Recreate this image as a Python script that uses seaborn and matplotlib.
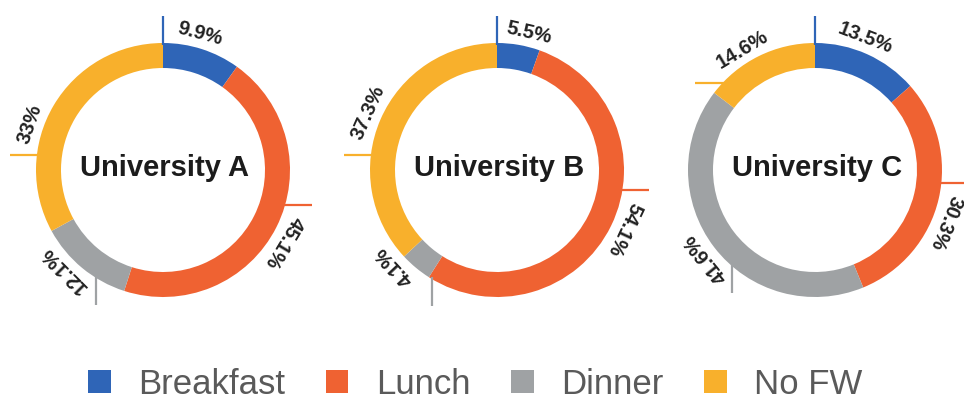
import numpy as np
import pandas as pd
import matplotlib
matplotlib.use("Agg")
import matplotlib.pyplot as plt
import seaborn as sns
from matplotlib.patches import Patch

# ---- data ----
categories = ["Breakfast", "Lunch", "Dinner", "No FW"]
universities = ["University A", "University B", "University C"]
uni_a = [9.9, 45.1, 12.1, 33.0]
uni_b = [5.5, 54.1, 4.1, 37.3]
uni_c = [13.5, 30.3, 41.6, 14.6]
labels_a = ["9.9%", "45.1%", "12.1%", "33%"]
labels_b = ["5.5%", "54.1%", "4.1%", "37.3%"]
labels_c = ["13.5%", "30.3%", "41.6%", "14.6%"]

# ---- layout (angles in degrees clockwise from 12 o'clock) ----
leader_a = [0, 106, 212, 277]
leader_b = [0, 99, 211, 277]
leader_c = [0, 96, 221, 313]
label_ang_a = [15, 121, 225, 289]
label_ang_b = [13, 115, 227, 294]
label_ang_c = [21, 112, 231, 329]
centers_x = [163, 497, 815]
center_y = 403 - 170
R = 127
W = 25

colors = ["#2f65b7", "#ef6232", "#9fa2a4", "#f8b02c"]

sns.set_theme(style="white")
plt.rcParams["font.family"] = ["Liberation Sans", "DejaVu Sans"]

fig = plt.figure(figsize=(9.64, 4.03), dpi=100)
ax = fig.add_axes([0, 0, 1, 1])

values_all = [uni_a, uni_b, uni_c]
labels_all = [labels_a, labels_b, labels_c]
leaders_all = [leader_a, leader_b, leader_c]
label_angs_all = [label_ang_a, label_ang_b, label_ang_c]

for name, vals, labs, leads, langs, cx in zip(universities, values_all, labels_all,
                                               leaders_all, label_angs_all, centers_x):
    ax.pie(vals, colors=colors, startangle=90, counterclock=False,
           radius=R, center=(cx, center_y),
           wedgeprops=dict(width=W, linewidth=0))
    ax.text(cx + 2, center_y + 2, name, ha="center", va="center",
            fontsize=21, fontweight="bold", color="#1c1c1c")
    for col, lab, th, phi in zip(colors, labs, leads, langs):
        t = np.deg2rad(th)
        px, py = cx + R * np.sin(t), center_y + R * np.cos(t)
        L = 27
        if abs(np.sin(t)) > abs(np.cos(t)):
            ax.plot([px - np.sign(np.sin(t)) * 2, px + np.sign(np.sin(t)) * L], [py, py],
                    color=col, lw=1.6, solid_capstyle="butt")
        else:
            ax.plot([px, px], [py - np.sign(np.cos(t)) * 2, py + np.sign(np.cos(t)) * L],
                    color=col, lw=1.6, solid_capstyle="butt")
        p = np.deg2rad(phi)
        rl = R + 14
        ax.text(cx + rl * np.sin(p), center_y + rl * np.cos(p), lab,
                rotation=-phi, rotation_mode="anchor", ha="center", va="center",
                fontsize=14.5, fontweight="bold", color="#222222")

ax.set_xlim(0, 964)
ax.set_ylim(0, 403)
ax.set_aspect("equal")
ax.axis("off")

handles = [Patch(facecolor=c, edgecolor="none", label=l) for c, l in zip(colors, categories)]
fig.legend(handles=handles, loc="center", bbox_to_anchor=(0.493, 19 / 403), ncol=4,
           frameon=False, fontsize=25, handlelength=0.66, handleheight=0.66,
           handletextpad=0.8, columnspacing=1.15, labelcolor="#5a5a5a",
           borderpad=0, borderaxespad=0)

fig.savefig("out.png", dpi=100)
